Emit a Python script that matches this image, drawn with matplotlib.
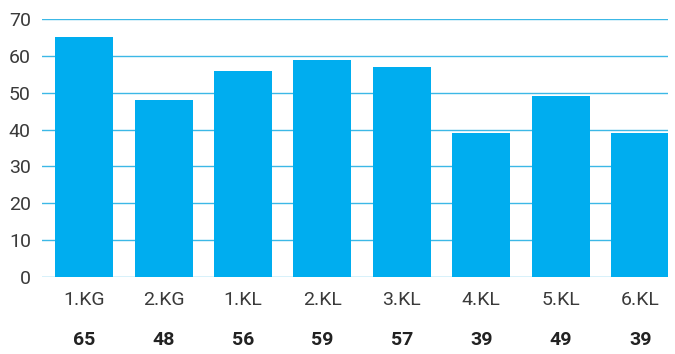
import numpy as np
import matplotlib.pyplot as plt

categories = ['1.KG', '2.KG', '1.KL', '2.KL', '3.KL', '4.KL', '5.KL', '6.KL']
values = [65, 48, 56, 59, 57, 39, 49, 39]
yticks = [0, 10, 20, 30, 40, 50, 60, 70]

plt.rcParams['font.family'] = ['Roboto', 'DejaVu Sans']

fig = plt.figure(figsize=(6.75, 3.54), dpi=100)
ax = fig.add_axes([0.0622, 0.2175, 0.9274, 0.7288])

x = np.arange(len(categories))
ax.bar(x, values, width=0.73, color='#00adef', zorder=3)

ax.set_xlim(-0.53, 7.35)
ax.set_ylim(0, 70)
ax.set_yticks(yticks)
ax.yaxis.grid(True, color='#3cb8e6', linewidth=1.0, zorder=0)
ax.set_axisbelow(True)
for s in ax.spines.values():
    s.set_visible(False)

ax.tick_params(axis='y', length=0, pad=8, labelsize=14, labelcolor='#3a3a3a')
ax.set_xticks(x)
ax.set_xticklabels(categories)
ax.tick_params(axis='x', length=0, pad=10, labelsize=14, labelcolor='#3a3a3a')

# value row under the category names
for xi, v in zip(x, values):
    ax.annotate(str(v), xy=(xi, 0), xycoords='data', xytext=(0, -39),
                textcoords='offset points', ha='center', va='top',
                fontsize=14, fontweight='bold', color='#222222')

fig.savefig('out.png', dpi=100)
